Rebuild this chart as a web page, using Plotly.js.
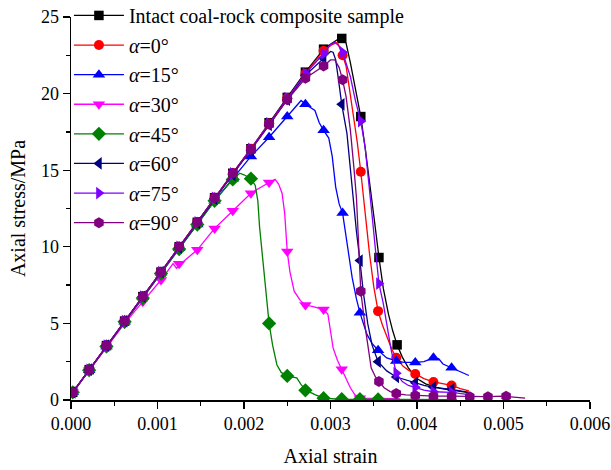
<!DOCTYPE html>
<html>
<head>
<meta charset="utf-8">
<script src="https://cdn.plot.ly/plotly-3.0.1.min.js"></script>
<style>html,body{margin:0;padding:0;background:#fff;}#chart{width:611px;height:470px;}</style>
</head>
<body>
<div id="chart"></div>
<script>
// ---------- data (strain, stress MPa) ----------
const seriesNames = ["Intact coal-rock composite sample", "<i>α</i>=0°", "<i>α</i>=15°", "<i>α</i>=30°", "<i>α</i>=45°", "<i>α</i>=60°", "<i>α</i>=75°", "<i>α</i>=90°"];

// Intact
const xIntact = [0.00002,0.00021,0.00041,0.00062,0.00083,0.00104,0.00125,0.00146,0.00166,0.00187,0.00208,0.00229,0.0025,0.00271,0.00292,0.00302,0.00309,0.00313,0.00318,0.00323,0.00329,0.00335,0.0034,0.00346,0.00351,0.00356,0.00361,0.00367,0.00372,0.00377,0.00383,0.0039,0.004,0.0041,0.0042,0.0043,0.0044,0.0045,0.0046];
const yIntact = [0.5,1.98,3.55,5.15,6.75,8.35,10.0,11.6,13.2,14.8,16.4,18.1,19.75,21.4,22.9,23.3,23.55,23.6,23.3,22.0,20.3,18.5,16.5,14.0,11.6,9.3,7.3,5.6,4.5,3.6,2.8,2.1,1.4,1.05,0.85,0.72,0.63,0.55,0.48];
const mxIntact = [0.00002,0.00021,0.00041,0.00062,0.00083,0.00104,0.00125,0.00146,0.00166,0.00187,0.00208,0.00229,0.0025,0.00271,0.00292,0.00313,0.00335,0.00356,0.00377];
const myIntact = [0.5,1.98,3.55,5.15,6.75,8.35,10.0,11.6,13.2,14.8,16.4,18.1,19.75,21.4,22.9,23.6,18.5,9.3,3.6];

// alpha = 0
const xA0 = [0.00002,0.00021,0.00041,0.00062,0.00083,0.00104,0.00125,0.00146,0.00166,0.00187,0.00208,0.00229,0.0025,0.00271,0.00292,0.00302,0.00308,0.00314,0.00318,0.00322,0.00327,0.00331,0.00335,0.0034,0.00345,0.0035,0.00355,0.0036,0.00366,0.00371,0.00376,0.00384,0.0039,0.00398,0.00408,0.00419,0.0043,0.0044,0.0045,0.0046];
const yA0 = [0.5,1.98,3.55,5.15,6.75,8.35,10.0,11.6,13.2,14.8,16.4,18.05,19.7,21.3,22.8,23.2,23.35,22.5,21.8,20.3,18.4,16.8,14.9,12.2,9.6,7.4,5.8,4.9,4.0,3.3,2.75,2.2,1.95,1.7,1.4,1.18,1.05,0.95,0.75,0.6];
const mxA0 = [0.00002,0.00021,0.00041,0.00062,0.00083,0.00104,0.00125,0.00146,0.00166,0.00187,0.00208,0.00229,0.0025,0.00271,0.00292,0.00314,0.00335,0.00355,0.00376,0.00398,0.00419,0.0044];
const myA0 = [0.5,1.98,3.55,5.15,6.75,8.35,10.0,11.6,13.2,14.8,16.4,18.05,19.7,21.3,22.8,22.5,14.9,5.8,2.75,1.7,1.18,0.95];

// alpha = 15
const xA15 = [0.00002,0.00021,0.00041,0.00062,0.00083,0.00104,0.00125,0.00146,0.00166,0.00187,0.00208,0.00229,0.0025,0.0026,0.00266,0.00271,0.00277,0.00282,0.00287,0.00292,0.00298,0.00302,0.00306,0.0031,0.00314,0.00319,0.00325,0.0033,0.00334,0.00342,0.00348,0.00355,0.00365,0.00376,0.00385,0.00398,0.00408,0.00419,0.00425,0.0043,0.0044,0.0045,0.0046];
const yA15 = [0.5,1.95,3.5,5.1,6.7,8.3,9.9,11.45,13.0,14.45,15.9,17.15,18.5,19.1,19.55,19.3,19.1,18.9,18.1,17.6,17.1,15.9,13.9,12.8,12.2,10.4,8.0,6.6,5.7,4.3,3.7,3.25,2.75,2.55,2.45,2.45,2.5,2.75,2.7,2.35,2.1,1.8,1.6];
const mxA15 = [0.00002,0.00021,0.00041,0.00062,0.00083,0.00104,0.00125,0.00146,0.00166,0.00187,0.00208,0.00229,0.0025,0.00271,0.00292,0.00314,0.00334,0.00355,0.00376,0.00398,0.00419,0.0044];
const myA15 = [0.5,1.95,3.5,5.1,6.7,8.3,9.9,11.45,13.0,14.45,15.9,17.15,18.5,19.3,17.6,12.2,5.7,3.25,2.55,2.45,2.75,2.1];

// alpha = 30
const xA30 = [0.00002,0.00021,0.00041,0.00062,0.00083,0.00104,0.00118,0.00122,0.00128,0.00135,0.00146,0.00166,0.00187,0.00208,0.00229,0.00236,0.0024,0.00244,0.00247,0.0025,0.00253,0.00258,0.00265,0.00271,0.0028,0.00287,0.00292,0.00297,0.003,0.00303,0.00308,0.00313,0.00318,0.00323,0.00328,0.00334,0.0035,0.0037,0.0038];
const yA30 = [0.5,1.95,3.4,5.0,6.42,7.83,8.9,8.6,8.95,9.3,9.8,11.2,12.35,13.5,14.2,14.4,14.1,13.5,12.2,9.7,8.4,7.1,6.5,6.2,6.1,6.0,5.9,5.6,4.6,3.4,2.6,2.0,1.3,0.8,0.35,0.12,0.1,0.1,0.08];
const mxA30 = [0.00002,0.00021,0.00041,0.00062,0.00083,0.00104,0.00125,0.00146,0.00166,0.00187,0.00208,0.00229,0.0025,0.00271,0.00292,0.00313,0.00334];
const myA30 = [0.5,1.95,3.4,5.0,6.42,7.83,8.9,9.8,11.2,12.35,13.5,14.2,9.7,6.2,5.9,2.0,0.12];

// alpha = 45
const xA45 = [0.00002,0.00021,0.00041,0.00062,0.00083,0.00104,0.00125,0.00146,0.00166,0.00187,0.00195,0.002,0.00208,0.00213,0.00216,0.00218,0.00221,0.00224,0.00229,0.00233,0.00238,0.00243,0.0025,0.00256,0.00261,0.00266,0.00272,0.00282,0.00292,0.0031,0.0035,0.004,0.00446];
const yA45 = [0.5,1.95,3.5,5.1,6.65,8.25,9.85,11.45,13.0,14.4,14.8,14.7,14.45,14.0,13.0,11.3,9.5,8.0,5.0,3.6,2.3,1.8,1.57,1.5,1.45,1.0,0.63,0.35,0.12,0.05,0.04,0.03,0.02];
const mxA45 = [0.00002,0.00021,0.00041,0.00062,0.00083,0.00104,0.00125,0.00146,0.00166,0.00187,0.00208,0.00229,0.0025,0.00271,0.00292,0.00313,0.00334,0.00355];
const myA45 = [0.5,1.95,3.5,5.1,6.65,8.25,9.85,11.45,13.0,14.4,14.45,5.0,1.57,0.63,0.12,0.05,0.05,0.04];

// alpha = 60
const xA60 = [0.00002,0.00021,0.00041,0.00062,0.00083,0.00104,0.00125,0.00146,0.00166,0.00187,0.00208,0.00229,0.0025,0.00271,0.00292,0.003,0.00303,0.00306,0.00309,0.00313,0.00319,0.00326,0.0033,0.00334,0.00338,0.00343,0.00348,0.00355,0.00365,0.00376,0.00387,0.00398,0.00408,0.00419,0.0043,0.0044,0.0046];
const yA60 = [0.5,1.98,3.55,5.15,6.75,8.35,9.95,11.55,13.15,14.7,16.3,17.95,19.6,21.2,22.3,22.75,22.7,22.2,21.0,19.3,17.4,13.2,11.0,9.1,7.0,5.0,3.6,2.5,1.9,1.5,1.3,1.13,0.95,0.83,0.75,0.7,0.5];
const mxA60 = [0.00002,0.00021,0.00041,0.00062,0.00083,0.00104,0.00125,0.00146,0.00166,0.00187,0.00208,0.00229,0.0025,0.00271,0.00292,0.00313,0.00334,0.00355,0.00376,0.00398,0.00419,0.0044];
const myA60 = [0.5,1.98,3.55,5.15,6.75,8.35,9.95,11.55,13.15,14.7,16.3,17.95,19.6,21.2,22.3,19.3,9.1,2.5,1.5,1.13,0.83,0.7];

// alpha = 75
const xA75 = [0.00002,0.00021,0.00041,0.00062,0.00083,0.00104,0.00125,0.00146,0.00166,0.00187,0.00208,0.00229,0.0025,0.00271,0.00292,0.003,0.00305,0.0031,0.00314,0.00318,0.00323,0.00329,0.00335,0.0034,0.00344,0.00348,0.00352,0.00356,0.00361,0.00365,0.0037,0.00376,0.00383,0.0039,0.00398,0.00408,0.00419,0.0043,0.0044,0.0046];
const yA75 = [0.5,1.98,3.55,5.15,6.75,8.35,10.0,11.6,13.2,14.8,16.4,18.05,19.7,21.3,22.6,23.2,23.35,23.1,22.7,22.0,21.1,19.5,18.2,16.5,14.5,12.1,9.8,7.6,6.3,5.0,3.3,1.75,1.2,0.95,0.83,0.65,0.54,0.5,0.5,0.35];
const mxA75 = [0.00002,0.00021,0.00041,0.00062,0.00083,0.00104,0.00125,0.00146,0.00166,0.00187,0.00208,0.00229,0.0025,0.00271,0.00292,0.00314,0.00335,0.00356,0.00376,0.00398,0.00419,0.0044];
const myA75 = [0.5,1.98,3.55,5.15,6.75,8.35,10.0,11.6,13.2,14.8,16.4,18.05,19.7,21.3,22.6,22.7,18.2,7.6,1.75,0.83,0.54,0.5];

// alpha = 90
const xA90 = [0.00002,0.00021,0.00041,0.00062,0.00083,0.00104,0.00125,0.00146,0.00166,0.00187,0.00208,0.00229,0.0025,0.00271,0.00292,0.003,0.00305,0.0031,0.00314,0.00318,0.00323,0.00327,0.0033,0.00332,0.00335,0.0034,0.00343,0.00347,0.00352,0.00356,0.00362,0.00369,0.00376,0.00387,0.00398,0.0042,0.0044,0.0046,0.0048,0.005,0.0051,0.00525];
const yA90 = [0.5,1.98,3.55,5.15,6.75,8.35,10.0,11.6,13.2,14.8,16.35,18.0,19.6,21.0,21.8,22.2,22.2,21.7,20.9,19.8,17.6,15.2,13.2,10.8,7.1,4.8,3.5,2.1,1.5,1.2,0.8,0.55,0.42,0.33,0.3,0.25,0.25,0.22,0.22,0.25,0.2,0.12];
const mxA90 = [0.00002,0.00021,0.00041,0.00062,0.00083,0.00104,0.00125,0.00146,0.00166,0.00187,0.00208,0.00229,0.0025,0.00271,0.00292,0.00314,0.00335,0.00356,0.00376,0.00398,0.00419,0.0044,0.00461,0.00482,0.00503];
const myA90 = [0.5,1.98,3.55,5.15,6.75,8.35,10.0,11.6,13.2,14.8,16.35,18.0,19.6,21.0,21.8,20.9,7.1,1.2,0.42,0.3,0.25,0.25,0.22,0.22,0.25];

const xTickLabels = ["0.000","0.001","0.002","0.003","0.004","0.005","0.006"];
const xTickVals = [0,0.001,0.002,0.003,0.004,0.005,0.006];
const yTickVals = [0,5,10,15,20,25];

// ---------- styles ----------
const curves = [
  {x:xIntact, y:yIntact, mx:mxIntact, my:myIntact},
  {x:xA0, y:yA0, mx:mxA0, my:myA0},
  {x:xA15, y:yA15, mx:mxA15, my:myA15},
  {x:xA30, y:yA30, mx:mxA30, my:myA30},
  {x:xA45, y:yA45, mx:mxA45, my:myA45},
  {x:xA60, y:yA60, mx:mxA60, my:myA60},
  {x:xA75, y:yA75, mx:mxA75, my:myA75},
  {x:xA90, y:yA90, mx:mxA90, my:myA90}
];
const styles = [
  {color:"#000000", symbol:"square", size:9.5},
  {color:"#ff0000", symbol:"circle", size:10},
  {color:"#0000ff", symbol:"triangle-up", size:11},
  {color:"#ff00ff", symbol:"triangle-down", size:11},
  {color:"#008000", symbol:"diamond", size:11},
  {color:"#000080", symbol:"triangle-left", size:11},
  {color:"#8000ff", symbol:"triangle-right", size:11},
  {color:"#800080", symbol:"hexagon", size:11}
];

const traces = [];
curves.forEach((c, i) => {
  const s = styles[i];
  traces.push({x:c.x, y:c.y, mode:"lines", type:"scatter", line:{color:s.color, width:1.3}, showlegend:false, hoverinfo:"skip", legendgroup:"g"+i});
  traces.push({x:c.mx, y:c.my, mode:"markers", type:"scatter", marker:{color:s.color, symbol:s.symbol, size:s.size, line:{width:0}}, showlegend:false, hoverinfo:"skip", legendgroup:"g"+i});
  traces.push({x:[null], y:[null], mode:"lines+markers", type:"scatter", name:seriesNames[i], line:{color:s.color, width:1.3}, marker:{color:s.color, symbol:s.symbol, size:s.size, line:{width:0}}, showlegend:true, legendgroup:"g"+i});
});

const fontFam = "Liberation Serif, Times New Roman, serif";
const layout = {
  width:611, height:470,
  margin:{l:71, r:21, t:17, b:70, autoexpand:false},
  paper_bgcolor:"#ffffff", plot_bgcolor:"#ffffff",
  font:{family:fontFam, color:"#000000", size:18},
  showlegend:true,
  legend:{x:-0.004, y:1.055, xanchor:"left", yanchor:"top", bgcolor:"rgba(0,0,0,0)", font:{family:fontFam, size:20, color:"#000"}, tracegroupgap:0.6, traceorder:"grouped", itemwidth:50, maxheight:2000},
  xaxis:{range:[0,0.006], tickvals:xTickVals, ticktext:xTickLabels, ticks:"outside", ticklen:7, tickwidth:1.3, tickcolor:"#000",
    showline:true, linecolor:"#000", linewidth:1.5, showgrid:false, zeroline:false,
    minor:{dtick:0.0005, tick0:0, ticks:"outside", ticklen:4, tickwidth:1.3, tickcolor:"#000", showgrid:false},
    tickfont:{family:fontFam, size:18, color:"#000"},
    title:{text:"Axial strain", font:{family:fontFam, size:20, color:"#000"}, standoff:16}},
  yaxis:{range:[0,25], tickvals:yTickVals, ticks:"outside", ticklen:7, tickwidth:1.3, tickcolor:"#000",
    showline:true, linecolor:"#000", linewidth:1.5, showgrid:false, zeroline:false,
    minor:{dtick:2.5, tick0:0, ticks:"outside", ticklen:4, tickwidth:1.3, tickcolor:"#000", showgrid:false},
    tickfont:{family:fontFam, size:18, color:"#000"},
    title:{text:"Axial stress/MPa", font:{family:fontFam, size:20, color:"#000"}, standoff:10}}
};

Plotly.newPlot("chart", traces, layout, {staticPlot:true, displayModeBar:false});
</script>
</body>
</html>
